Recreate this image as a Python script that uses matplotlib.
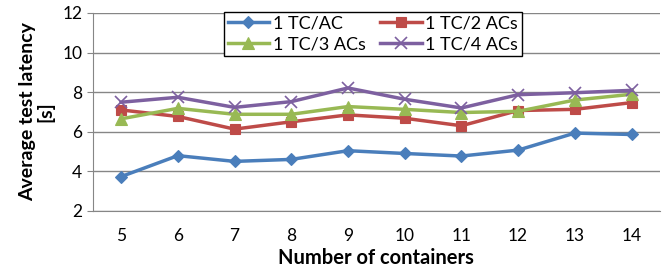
import matplotlib.pyplot as plt

containers = [5, 6, 7, 8, 9, 10, 11, 12, 13, 14]
tc_1ac = [3.73, 4.79, 4.50, 4.60, 5.04, 4.90, 4.77, 5.07, 5.93, 5.86]
tc_2acs = [7.10, 6.77, 6.13, 6.50, 6.85, 6.68, 6.30, 7.07, 7.13, 7.47]
tc_3acs = [6.65, 7.18, 6.88, 6.88, 7.27, 7.13, 6.97, 7.03, 7.60, 7.89]
tc_4acs = [7.49, 7.74, 7.23, 7.52, 8.21, 7.64, 7.20, 7.87, 7.97, 8.09]

series = [
    ("1 TC/AC", tc_1ac, "#4A7EBB", "D", 6),
    ("1 TC/2 ACs", tc_2acs, "#BE4B48", "s", 7),
    ("1 TC/3 ACs", tc_3acs, "#98B954", "^", 8),
    ("1 TC/4 ACs", tc_4acs, "#7D60A0", "x", 8),
]

plt.rcParams["font.family"] = ["Lato", "DejaVu Sans"]

fig = plt.figure(figsize=(6.72, 2.76), dpi=100)
ax = fig.add_axes([0.138, 0.236, 0.844, 0.717])

x = list(range(len(containers)))
lines = {}
for label, vals, color, marker, ms in series:
    lines[label], = ax.plot(x, vals, color=color, lw=2.5, marker=marker, markersize=ms,
                            markeredgewidth=1.2 if marker == "x" else 0.8,
                            markeredgecolor=color, label=label)

ax.set_xlim(-0.5, len(containers) - 0.5)
ax.set_ylim(2, 12)
ax.set_yticks([2, 4, 6, 8, 10, 12])
ax.set_xticks(x)
ax.set_xticklabels([str(c) for c in containers])
ax.tick_params(axis="x", length=0, pad=12, labelsize=12.5)
ax.tick_params(axis="y", length=4, color="#868686", labelsize=12.5, direction="out")
ax.grid(axis="y", color="#868686", lw=1)
ax.set_axisbelow(True)
for s in ["top", "right"]:
    ax.spines[s].set_visible(False)
ax.spines["left"].set_color("#868686")
ax.spines["bottom"].set_color("#868686")

ax.set_xlabel("Number of containers", fontsize=14.5, fontweight="bold", labelpad=3)
ax.set_ylabel("Average test latency\n[s]", fontsize=14, fontweight="bold",
              linespacing=1.0, labelpad=6)

# row-wise legend order like the original
order = ["1 TC/AC", "1 TC/3 ACs", "1 TC/2 ACs", "1 TC/4 ACs"]
leg = ax.legend([lines[k] for k in order], order, ncol=2, loc="upper center",
                bbox_to_anchor=(0.494, 1.05),
                fontsize=13, frameon=True, fancybox=False, edgecolor="black",
                framealpha=1, borderpad=0.2, handlelength=2.3,
                handletextpad=0.2, columnspacing=0.8, labelspacing=0.25)
leg.get_frame().set_linewidth(1.0)

fig.savefig("out.png", dpi=100)
